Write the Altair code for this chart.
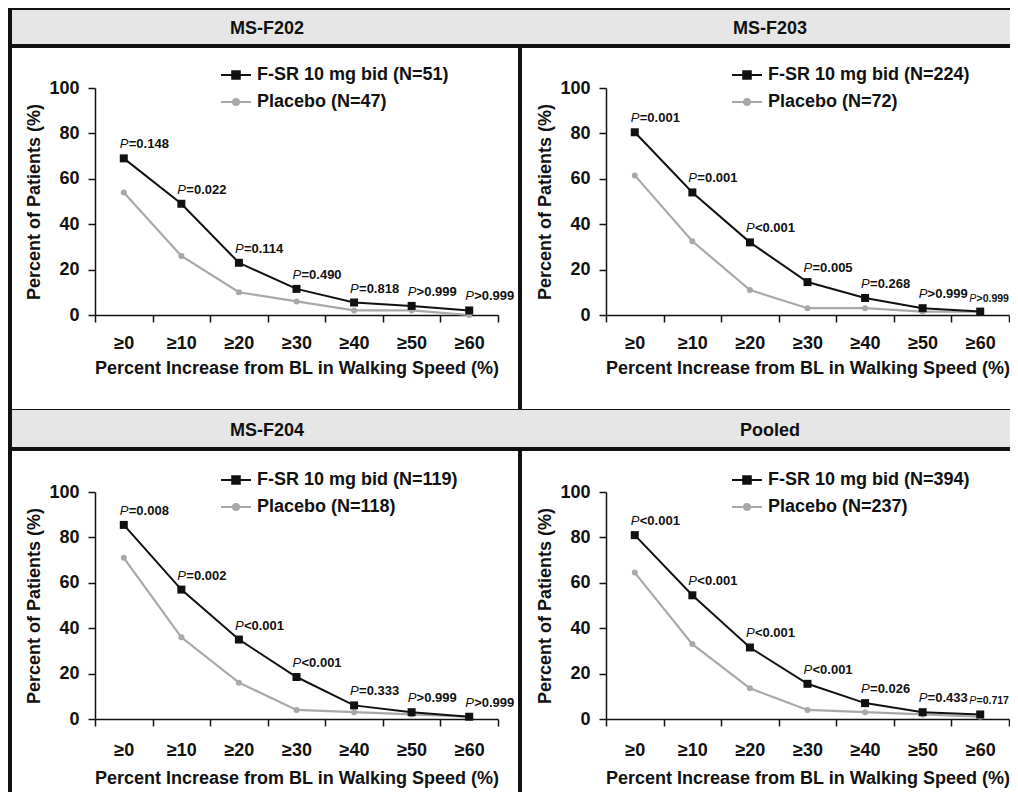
import altair as alt
import pandas as pd

# ---------------- data ----------------
categories = ["≥0", "≥10", "≥20", "≥30", "≥40", "≥50", "≥60"]
panel_titles = ["MS-F202", "MS-F203", "MS-F204", "Pooled"]
fsr_labels = ["F-SR 10 mg bid (N=51)", "F-SR 10 mg bid (N=224)",
              "F-SR 10 mg bid (N=119)", "F-SR 10 mg bid (N=394)"]
pbo_labels = ["Placebo (N=47)", "Placebo (N=72)", "Placebo (N=118)", "Placebo (N=237)"]

fsr_202 = [69, 49, 23, 11.5, 5.5, 4, 2]
pbo_202 = [54, 26, 10, 6, 2, 2, 0]
p_202 = ["P=0.148", "P=0.022", "P=0.114", "P=0.490", "P=0.818", "P>0.999", "P>0.999"]

fsr_203 = [80.5, 54, 32, 14.5, 7.5, 3, 1.5]
pbo_203 = [61.5, 32.5, 11, 3, 3, 1.5, 1.5]
p_203 = ["P=0.001", "P=0.001", "P<0.001", "P=0.005", "P=0.268", "P>0.999", "P>0.999"]

fsr_204 = [85.5, 57, 35, 18.5, 6, 3, 1]
pbo_204 = [71, 36, 16, 4, 3, 2, 1]
p_204 = ["P=0.008", "P=0.002", "P<0.001", "P<0.001", "P=0.333", "P>0.999", "P>0.999"]

fsr_pool = [81, 54.5, 31.5, 15.5, 7, 3, 2]
pbo_pool = [64.5, 33, 13.5, 4, 3, 2, 1]
p_pool = ["P<0.001", "P<0.001", "P<0.001", "P<0.001", "P=0.026", "P=0.433", "P=0.717"]

x_title = "Percent Increase from BL in Walking Speed (%)"
y_title = "Percent of Patients (%)"

# ---------------- style ----------------
FONT = "Liberation Sans"
BLACK = "#111111"
GREY = "#a8a8a8"
BAND = "#e6e6e6"
W, H = 403, 227
SQ_PATH = "M-1.5,0H1.5M-0.38,-0.38H0.38V0.38H-0.38Z"
CI_PATH = "M-1.5,0H1.5M0.3,0A0.3,0.3 0 1,1 -0.3,0A0.3,0.3 0 1,1 0.3,0Z"

dummy = pd.DataFrame({"d": [0]})


def rect(x1, x2, y1, y2, color):
    return alt.Chart(dummy).mark_rect(color=color).encode(
        x=alt.value(x1), x2=alt.value(x2), y=alt.value(y1), y2=alt.value(y2))


def plabels(df, xenc, yenc, shift, clip, fs=13):
    p_w = 0.667 * fs + 0.3
    a = alt.Chart(df).mark_text(
        font=FONT, fontSize=fs, fontStyle="italic", color=BLACK, align="left",
        baseline="alphabetic", dx=-4 + shift, dy=-10, clip=clip).encode(x=xenc, y=yenc, text="p1:N")
    b = alt.Chart(df).mark_text(
        font=FONT, fontSize=fs, fontWeight="bold", color=BLACK, align="left",
        baseline="alphabetic", dx=-4 + shift + p_w, dy=-10, clip=clip).encode(x=xenc, y=yenc, text="p2:N")
    return [a, b]


def panel(title, fsr, pbo, pvals, fsr_lab, pbo_lab, ext, legend_y, edge_panel, lab_pad, tit_pad):
    L, R, T, B, bt, bb, lb, left_border, div = ext
    deco = []
    if T < bt:
        deco.append(rect(L, R, T, bt, BLACK))
    deco.append(rect(L, R, bt, bb, BAND))
    deco.append(rect(L, R, bb, lb, BLACK))
    if left_border:
        deco.append(rect(L, L + 4, T, B, BLACK))
    if div == "right":
        deco.append(rect(R - 2, R, lb, B, BLACK))
    else:
        deco.append(rect(L, L + 2, lb, B, BLACK))
    deco.append(alt.Chart(dummy).mark_text(
        font=FONT, fontSize=18, fontWeight="bold", color=BLACK, baseline="middle", align="center"
    ).encode(x=alt.value(title_cx[title]), y=alt.value((bt + bb) / 2 + 2), text=alt.value(title)))

    f_df = pd.DataFrame({"cat": categories, "value": fsr, "p": pvals,
                         "p1": [s[0] for s in pvals], "p2": [s[1:] for s in pvals]})
    p_df = pd.DataFrame({"cat": categories, "value": pbo})

    xenc = alt.X("cat:N", sort=categories, bandPosition=0.5,
                 scale=alt.Scale(type="band", domain=categories, paddingInner=0, paddingOuter=0),
                 axis=alt.Axis(title=x_title, labelPadding=lab_pad, titlePadding=tit_pad))
    yenc = alt.Y("value:Q", scale=alt.Scale(domain=[0, 100], nice=False),
                 axis=alt.Axis(values=[0, 20, 40, 60, 80, 100], title=y_title))

    pbo_line = alt.Chart(p_df).mark_line(color=GREY, strokeWidth=2.2).encode(x=xenc, y=yenc)
    pbo_pts = alt.Chart(p_df).mark_point(shape="circle", filled=True, size=36, color=GREY, opacity=1).encode(x=xenc, y=yenc)
    fsr_line = alt.Chart(f_df).mark_line(color=BLACK, strokeWidth=2).encode(x=xenc, y=yenc)
    fsr_pts = alt.Chart(f_df).mark_point(shape="square", filled=True, size=64, color=BLACK, opacity=1).encode(x=xenc, y=yenc)

    if edge_panel:
        # the last label sits against the page edge: a little smaller so it stays whole
        texts = plabels(f_df.iloc[:-1], xenc, yenc, 0, True) + plabels(f_df.iloc[-1:], xenc, yenc, -7, True, fs=10.5)
    else:
        texts = plabels(f_df, xenc, yenc, 0, False)

    leg_dom = [fsr_lab, pbo_lab]
    leg = alt.Legend(orient="none", legendX=130, legendY=legend_y, title=None, padding=0,
                     rowPadding=7, symbolSize=400, labelOffset=10, symbolStrokeWidth=2,
                     symbolOpacity=1, labelFont=FONT, labelFontSize=18, labelFontWeight="bold",
                     labelColor=BLACK, labelLimit=500)
    leg_df = pd.DataFrame({"legend": leg_dom})
    legend_layer = alt.Chart(leg_df).mark_point(filled=True, opacity=0).encode(
        x=alt.value(0), y=alt.value(0),
        fill=alt.Fill("legend:N", sort=leg_dom, scale=alt.Scale(domain=leg_dom, range=[BLACK, GREY]), legend=leg),
        stroke=alt.Stroke("legend:N", sort=leg_dom, scale=alt.Scale(domain=leg_dom, range=[BLACK, GREY]), legend=leg),
        shape=alt.Shape("legend:N", sort=leg_dom, scale=alt.Scale(domain=leg_dom, range=[SQ_PATH, CI_PATH]), legend=leg),
    )

    return alt.layer(*deco, pbo_line, pbo_pts, fsr_line, fsr_pts, *texts, legend_layer).properties(
        width=W, height=H)


# header text centres (local px) - centred in the full (uncropped) cells
title_cx = {"MS-F202": 172, "MS-F203": 164, "MS-F204": 172, "Pooled": 164}

# extents in local (plot-area) pixel coordinates
ext_tl = (-87, 425, -80, 321, -78, -44, -40, True, "right")
ext_tr = (-86, 404, -80, 321, -78, -44, -40, False, "left")
ext_bl = (-87, 425, -83, 300, -82, -45, -41, True, "right")
ext_br = (-86, 404, -83, 300, -82, -45, -41, False, "left")

tl = panel(panel_titles[0], fsr_202, pbo_202, p_202, fsr_labels[0], pbo_labels[0], ext_tl, -24, False, 12, 7)
tr = panel(panel_titles[1], fsr_203, pbo_203, p_203, fsr_labels[1], pbo_labels[1], ext_tr, -24, True, 12, 7)
bl = panel(panel_titles[2], fsr_204, pbo_204, p_204, fsr_labels[2], pbo_labels[2], ext_bl, -23, False, 15, 10)
br = panel(panel_titles[3], fsr_pool, pbo_pool, p_pool, fsr_labels[3], pbo_labels[3], ext_br, -23, True, 15, 10)

ind = dict(x="independent", y="independent", fill="independent", stroke="independent", shape="independent")
row1 = alt.hconcat(tl, tr, spacing=0).resolve_scale(**ind).resolve_legend(fill="independent", stroke="independent", shape="independent")
row2 = alt.hconcat(bl, br, spacing=0).resolve_scale(**ind).resolve_legend(fill="independent", stroke="independent", shape="independent")

chart = alt.vconcat(row1, row2, spacing=0).resolve_scale(**ind).resolve_legend(
    fill="independent", stroke="independent", shape="independent"
).properties(padding=0, background="white").configure_view(stroke=None).configure_axis(
    labelFont=FONT, labelFontSize=18, labelFontWeight="bold", labelColor=BLACK,
    titleFont=FONT, titleFontSize=18, titleFontWeight="bold", titleColor=BLACK,
    domainColor=BLACK, domainWidth=1.5, tickColor=BLACK, tickWidth=1.5, grid=False,
).configure_axisX(
    tickBand="extent", labelAngle=0, tickSize=7,
).configure_axisY(
    tickSize=7, labelPadding=9, titlePadding=5,
)

chart.save("out.html", embed_options={"renderer": "svg", "actions": False})
